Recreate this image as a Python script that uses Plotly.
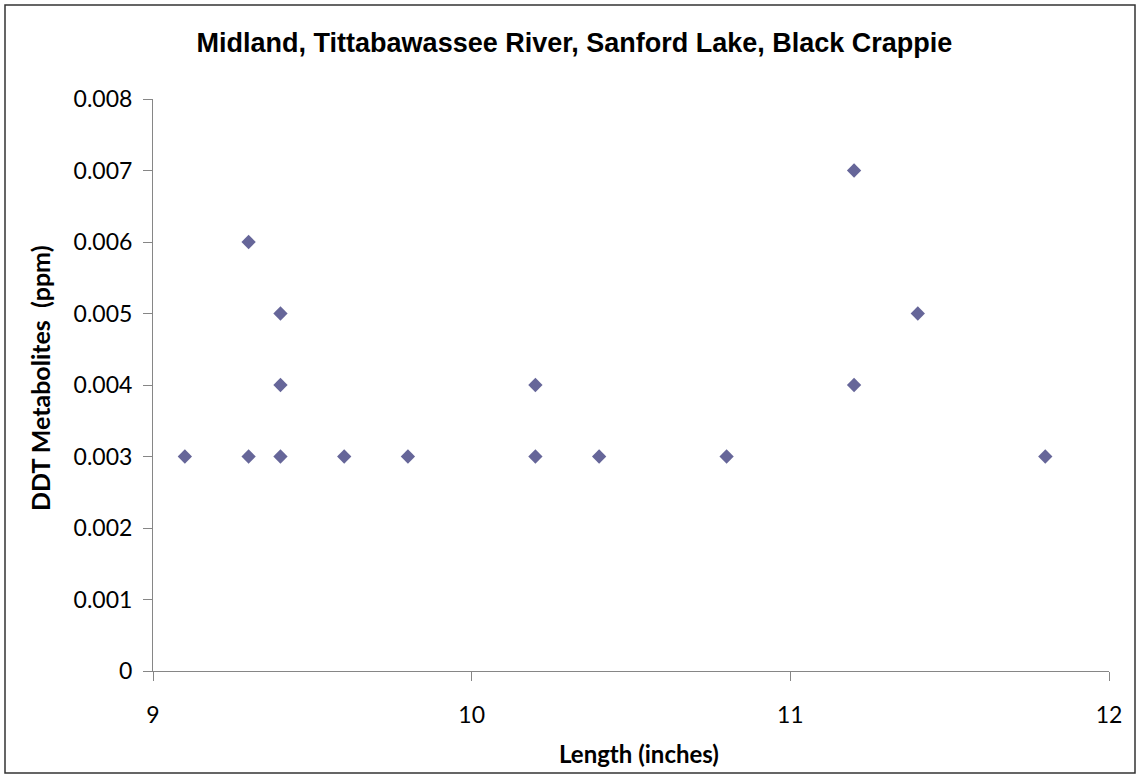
import plotly.graph_objects as go

length_in = [9.1, 9.3, 9.3, 9.4, 9.4, 9.4, 9.6, 9.8, 10.2, 10.2, 10.4, 10.8, 11.2, 11.2, 11.4, 11.8]
ddt_ppm = [0.003, 0.006, 0.003, 0.005, 0.004, 0.003, 0.003, 0.003, 0.004, 0.003, 0.003, 0.003, 0.007, 0.004, 0.005, 0.003]
x_ticks = [9, 10, 11, 12]
y_ticks = [0, 0.001, 0.002, 0.003, 0.004, 0.005, 0.006, 0.007, 0.008]
y_ticktext = ["0", "0.001", "0.002", "0.003", "0.004", "0.005", "0.006", "0.007", "0.008"]

W, H = 1138, 776
L, R, T, B = 153, 29, 99, 105
pw, ph = W - L - R, H - T - B


# pixel -> paper helpers, for the frame and the titles
def px(x):
    return (x - L) / pw


def py(y):
    return (H - B - y) / ph


tick_font = dict(family="Lato, Liberation Sans, sans-serif", size=23, color="#000000")
label_font = dict(family="Lato, Liberation Sans, sans-serif", size=24, color="#000000")

fig = go.Figure()
fig.add_trace(
    go.Scatter(
        x=length_in,
        y=ddt_ppm,
        mode="markers",
        marker=dict(symbol="diamond", size=11, color="#666699"),
        showlegend=False,
    )
)

axis_common = dict(
    showgrid=False,
    zeroline=False,
    showline=True,
    linecolor="#868686",
    linewidth=1,
    ticks="outside",
    ticklen=9,
    tickcolor="#868686",
    tickfont=tick_font,
    automargin=False,
)

fig.update_layout(
    width=W,
    height=H,
    margin=dict(l=L, r=R, t=T, b=B, autoexpand=False),
    paper_bgcolor="white",
    plot_bgcolor="white",
    title=dict(
        text="<b>Midland, Tittabawassee River, Sanford Lake, Black Crappie</b>",
        x=574.5 / W,
        xanchor="center",
        xref="container",
        y=1 - 43 / H,
        yanchor="middle",
        yref="container",
        font=dict(family="Liberation Sans, Arial, sans-serif", size=27, color="#000000"),
    ),
    xaxis=dict(range=[9, 12], tickvals=x_ticks, ticklabelstandoff=14, **axis_common),
    yaxis=dict(range=[0, 0.008], tickvals=y_ticks, ticktext=y_ticktext, ticklabelstandoff=6, **axis_common),
    annotations=[
        dict(
            text="<b>Length (inches)</b>",
            xref="paper", yref="paper",
            x=px(639), y=py(753),
            xanchor="center", yanchor="middle",
            showarrow=False,
            font=label_font,
        ),
        dict(
            text="<b>DDT Metabolites\u00a0\u00a0(ppm)</b>",
            xref="paper", yref="paper",
            x=px(40), y=py(378),
            xanchor="center", yanchor="middle",
            textangle=-90,
            showarrow=False,
            font=dict(label_font, size=25),
        ),
    ],
    shapes=[
        dict(
            type="rect",
            xref="paper", yref="paper",
            x0=px(5), x1=px(1135),
            y0=py(773), y1=py(5),
            line=dict(color="#333333", width=1.5),
            fillcolor="rgba(0,0,0,0)",
            layer="below",
        )
    ],
)

fig.write_html(
    "out.html",
    config={"displayModeBar": False},
    post_script="document.body.style.margin='0';",
)
